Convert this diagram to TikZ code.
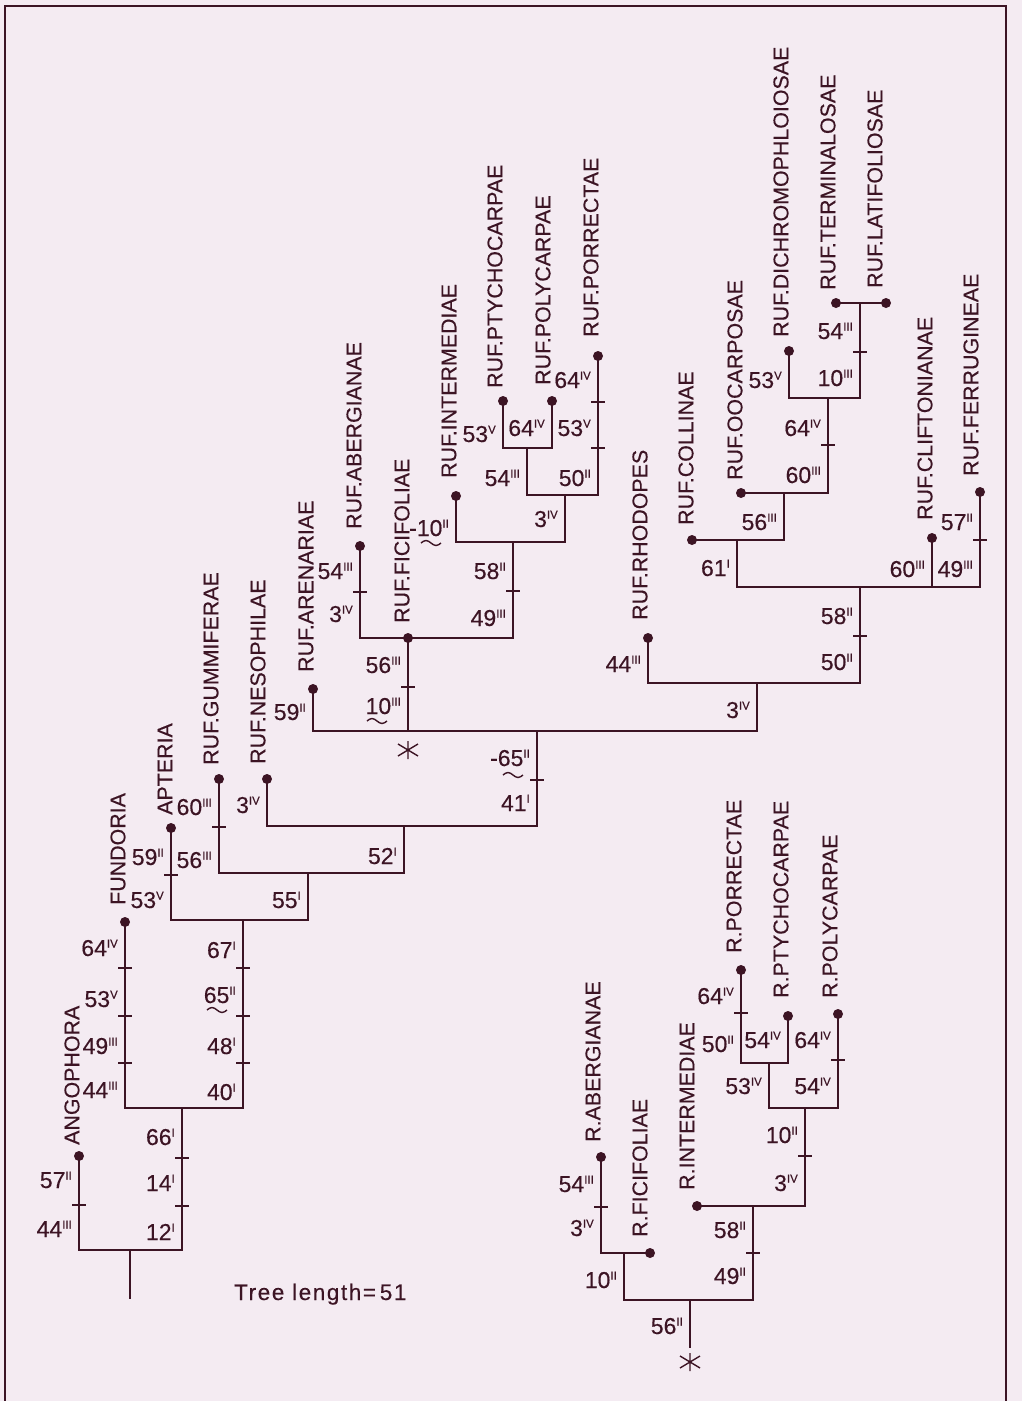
\documentclass[tikz,border=0pt]{standalone}
\usepackage{fontspec}
\setmainfont{Liberation Sans}[FakeBold=0.3]
\definecolor{ink}{RGB}{60,20,36}
\definecolor{paper}{RGB}{244,235,242}
\newcommand\rsup[1]{\raisebox{8.5pt}{\fontsize{11.5}{11.5}\selectfont #1}}
\newcommand\nm[5]{\node[num] (#1) at ({#2-7},{#3+8}) {#4\rsup{#5}};}
\newcommand\tx[4]{\node[taxon] (#1) at (#2,#3) {#4};}
\newcommand\tld[3]{\draw[tildeline] (#1,#2) sin ++(5,-2.5) cos ++(5,2.5) sin ++(5,2.5) cos ++(5,-2.5);}
\newcommand\tk[2]{\draw[tickline] ({#1-7},#2) -- ({#1+7},#2);}
\newcommand\starmark[3]{\coordinate (#1) at (#2,#3);
  \draw[starline] (#1) +(0,-9) -- +(0,9) (#1) +(-10,-6) -- +(10,6) (#1) +(-10,6) -- +(10,-6);}
\begin{document}
\begin{tikzpicture}[x=1pt,y=-1pt,
  every node/.style={text=ink},
  branch/.style={draw=ink,line width=2.8pt,line cap=rect},
  leaf/.style={circle,fill=ink,inner sep=0pt,minimum size=10pt},
  taxon/.style={rotate=90,anchor=west,inner sep=0pt,font=\fontsize{21.4}{21.4}\selectfont},
  num/.style={anchor=base east,inner sep=0pt,font=\fontsize{23}{23}\selectfont},
  tickline/.style={draw=ink,line width=1.2pt},
  tildeline/.style={draw=ink,line width=1.4pt},
  starline/.style={draw=ink,line width=1.4pt},
  frameline/.style={draw=ink,line width=2pt}]
\useasboundingbox (0,0) rectangle (1022,1401);
\fill[paper] (0,0) rectangle (1022,1401);
\draw[frameline] (5,1401) -- (5,6) -- (1006,6) -- (1006,1401);

% ---------- main tree: internal nodes ----------
\coordinate (r0) at (130,1298);
\coordinate (A) at (130,1250);
\coordinate (B) at (182,1108);
\coordinate (C) at (243,920);
\coordinate (D) at (308,873);
\coordinate (E) at (404,826);
\coordinate (F) at (537,731);
\coordinate (H) at (513,542);
\coordinate (I) at (565,495);
\coordinate (J) at (527,448);
\coordinate (G) at (757,683);
\coordinate (K) at (860,587);
\coordinate (L) at (737,540);
\coordinate (M) at (784,493);
\coordinate (N) at (828,398);
\coordinate (O) at (860,303);
% leaves
\node[leaf] (ANG) at (79,1156) {};
\node[leaf] (FUN) at (125,922) {};
\node[leaf] (APT) at (171,828) {};
\node[leaf] (GUM) at (219,779) {};
\node[leaf] (NES) at (267,779) {};
\node[leaf] (ARE) at (313,689) {};
\node[leaf] (FIC) at (408,638) {};
\node[leaf] (ABE) at (360,546) {};
\node[leaf] (INT) at (456,496) {};
\node[leaf] (PTY) at (503,401) {};
\node[leaf] (POL) at (552,401) {};
\node[leaf] (POR) at (598,356) {};
\node[leaf] (RHO) at (648,638) {};
\node[leaf] (COL) at (692,540) {};
\node[leaf] (OOC) at (741,493) {};
\node[leaf] (DIC) at (789,351) {};
\node[leaf] (TER) at (836,303) {};
\node[leaf] (LAT) at (886,303) {};
\node[leaf] (CLI) at (932,538) {};
\node[leaf] (FER) at (980,492) {};

\draw[branch] (r0) -- (A);
\draw[branch] (A) -| (ANG.center);
\draw[branch] (A) -| (B);
\draw[branch] (B) -| (FUN.center);
\draw[branch] (B) -| (C);
\draw[branch] (C) -| (APT.center);
\draw[branch] (C) -| (D);
\draw[branch] (D) -| (GUM.center);
\draw[branch] (D) -| (E);
\draw[branch] (E) -| (NES.center);
\draw[branch] (E) -| (F);
\draw[branch] (F) -| (ARE.center);
\draw[branch] (F) -| (FIC.center);
\draw[branch] (F) -| (G);
\draw[branch] (FIC.center) -| (ABE.center);
\draw[branch] (FIC.center) -| (H);
\draw[branch] (H) -| (INT.center);
\draw[branch] (H) -| (I);
\draw[branch] (I) -| (J);
\draw[branch] (I) -| (POR.center);
\draw[branch] (J) -| (PTY.center);
\draw[branch] (J) -| (POL.center);
\draw[branch] (G) -| (RHO.center);
\draw[branch] (G) -| (K);
\draw[branch] (K) -| (L);
\draw[branch] (K) -| (CLI.center);
\draw[branch] (K) -| (FER.center);
\draw[branch] (L) -| (COL.center);
\draw[branch] (L) -| (M);
\draw[branch] (M) -| (OOC.center);
\draw[branch] (M) -| (N);
\draw[branch] (N) -| (DIC.center);
\draw[branch] (N) -| (O);
\draw[branch] (O) -| (TER.center);
\draw[branch] (O) -| (LAT.center);

% ticks
\tk{79}{1205} \tk{182}{1158} \tk{182}{1206}
\tk{125}{968} \tk{125}{1016} \tk{125}{1063}
\tk{243}{968} \tk{243}{1016} \tk{243}{1063}
\tk{171}{875} \tk{219}{827} \tk{537}{780} \tk{408}{687}
\tk{360}{592} \tk{513}{591} \tk{598}{402} \tk{598}{448}
\tk{860}{636} \tk{828}{445} \tk{860}{352} \tk{980}{540}

% taxon labels
\tx{tANG}{72}{1145}{ANGOPHORA}
\tx{tFUN}{118}{905}{FUNDORIA}
\tx{tAPT}{165}{815}{APTERIA}
\tx{tGUM}{211}{765}{RUF.GUMMIFERAE}
\tx{tNES}{258}{764}{RUF.NESOPHILAE}
\tx{tARE}{306}{672}{RUF.ARENARIAE}
\tx{tABE}{354}{529}{RUF.ABERGIANAE}
\tx{tFIC}{402}{623}{RUF.FICIFOLIAE}
\tx{tINT}{449}{478}{RUF.INTERMEDIAE}
\tx{tPTY}{495}{388}{RUF.PTYCHOCARPAE}
\tx{tPOL}{543}{385}{RUF.POLYCARPAE}
\tx{tPOR}{591}{337}{RUF.PORRECTAE}
\tx{tRHO}{640}{620}{RUF.RHODOPES}
\tx{tCOL}{686}{525}{RUF.COLLINAE}
\tx{tOOC}{735}{480}{RUF.OOCARPOSAE}
\tx{tDIC}{781}{337}{RUF.DICHROMOPHLOIOSAE}
\tx{tTER}{828}{290}{RUF.TERMINALOSAE}
\tx{tLAT}{875}{288}{RUF.LATIFOLIOSAE}
\tx{tCLI}{925}{520}{RUF.CLIFTONIANAE}
\tx{tFER}{971}{476}{RUF.FERRUGINEAE}

% character numbers
\nm{a1}{79}{1180}{57}{II}
\nm{a2}{79}{1229}{44}{III}
\nm{a3}{182}{1137}{66}{I}
\nm{a4}{182}{1183}{14}{I}
\nm{a5}{182}{1232}{12}{I}
\nm{a6}{125}{948}{64}{IV}
\nm{a7}{125}{999}{53}{V}
\nm{a8}{125}{1046}{49}{III}
\nm{a9}{125}{1090}{44}{III}
\nm{b1}{243}{950}{67}{I}
\nm{b2}{243}{995}{65}{II}
\nm{b3}{243}{1046}{48}{I}
\nm{b4}{243}{1092}{40}{I}
\nm{b5}{171}{857}{59}{II}
\nm{b6}{171}{900}{53}{V}
\nm{b7}{308}{900}{55}{I}
\nm{b8}{219}{807}{60}{III}
\nm{b9}{219}{860}{56}{III}
\nm{c1}{267}{805}{3}{IV}
\nm{c2}{404}{856}{52}{I}
\nm{c3}{313}{712}{59}{II}
\nm{c4}{537}{758}{-65}{II}
\nm{c5}{537}{803}{41}{I}
\nm{c6}{408}{665}{56}{III}
\nm{c7}{408}{706}{10}{III}
\nm{c8}{360}{571}{54}{III}
\nm{c9}{360}{614}{3}{IV}
\nm{d1}{513}{571}{58}{II}
\nm{d2}{513}{618}{49}{III}
\nm{d3}{456}{528}{-10}{II}
\nm{d4}{565}{519}{3}{IV}
\nm{d5}{527}{478}{54}{III}
\nm{d6}{503}{434}{53}{V}
\nm{d7}{552}{428}{64}{IV}
\nm{d8}{598}{380}{64}{IV}
\nm{d9}{598}{428}{53}{V}
\nm{e1}{598}{478}{50}{II}
\nm{e2}{757}{710}{3}{IV}
\nm{e3}{648}{664}{44}{III}
\nm{e4}{860}{616}{58}{II}
\nm{e5}{860}{662}{50}{II}
\nm{e6}{737}{568}{61}{I}
\nm{e7}{784}{522}{56}{III}
\nm{e8}{828}{428}{64}{IV}
\nm{e9}{828}{475}{60}{III}
\nm{f1}{789}{380}{53}{V}
\nm{f2}{860}{331}{54}{III}
\nm{f3}{860}{378}{10}{III}
\nm{f4}{932}{569}{60}{III}
\nm{f5}{980}{522}{57}{II}
\nm{f6}{980}{569}{49}{III}

% tildes
\tld{207}{1010}{}
\tld{503}{775}{}
\tld{367}{721}{}
\tld{421}{543}{}

\starmark{st1}{408}{750}

\node[num,anchor=base west,font=\fontsize{22.5}{22.5}\selectfont\addfontfeature{LetterSpace=7}] (tl) at (234,1300) {Tree length=\,51};

% ---------- second tree ----------
\coordinate (s0) at (690,1347);
\coordinate (P) at (690,1300);
\coordinate (Q) at (624,1253);
\coordinate (R) at (753,1206);
\coordinate (T) at (805,1108);
\coordinate (U) at (769,1063);
\node[leaf] (RAB) at (601,1157) {};
\node[leaf] (RFI) at (650,1253) {};
\node[leaf] (RIN) at (697,1206) {};
\node[leaf] (RPR) at (741,970) {};
\node[leaf] (RPT) at (788,1016) {};
\node[leaf] (RPO) at (838,1014) {};

\draw[branch] (s0) -- (P);
\draw[branch] (P) -| (Q);
\draw[branch] (P) -| (R);
\draw[branch] (Q) -| (RAB.center);
\draw[branch] (Q) -| (RFI.center);
\draw[branch] (R) -| (RIN.center);
\draw[branch] (R) -| (T);
\draw[branch] (T) -| (U);
\draw[branch] (T) -| (RPO.center);
\draw[branch] (U) -| (RPR.center);
\draw[branch] (U) -| (RPT.center);

\tk{601}{1207} \tk{753}{1253} \tk{805}{1156} \tk{838}{1060} \tk{741}{1013}

\tx{tRPR}{734}{953}{R.PORRECTAE}
\tx{tRPT}{781}{998}{R.PTYCHOCARPAE}
\tx{tRPO}{830}{998}{R.POLYCARPAE}
\tx{tRAB}{593}{1142}{R.ABERGIANAE}
\tx{tRFI}{640}{1237}{R.FICIFOLIAE}
\tx{tRIN}{687}{1190}{R.INTERMEDIAE}

\nm{g1}{690}{1326}{56}{II}
\nm{g2}{624}{1280}{10}{II}
\nm{g3}{601}{1184}{54}{III}
\nm{g4}{601}{1228}{3}{IV}
\nm{g5}{753}{1230}{58}{II}
\nm{g6}{753}{1276}{49}{II}
\nm{g7}{805}{1135}{10}{II}
\nm{g8}{805}{1183}{3}{IV}
\nm{g9}{769}{1086}{53}{IV}
\nm{h1}{838}{1040}{64}{IV}
\nm{h2}{838}{1086}{54}{IV}
\nm{h3}{741}{996}{64}{IV}
\nm{h4}{741}{1044}{50}{II}
\nm{h5}{788}{1040}{54}{IV}

\starmark{st2}{690}{1362}
\end{tikzpicture}
\end{document}
